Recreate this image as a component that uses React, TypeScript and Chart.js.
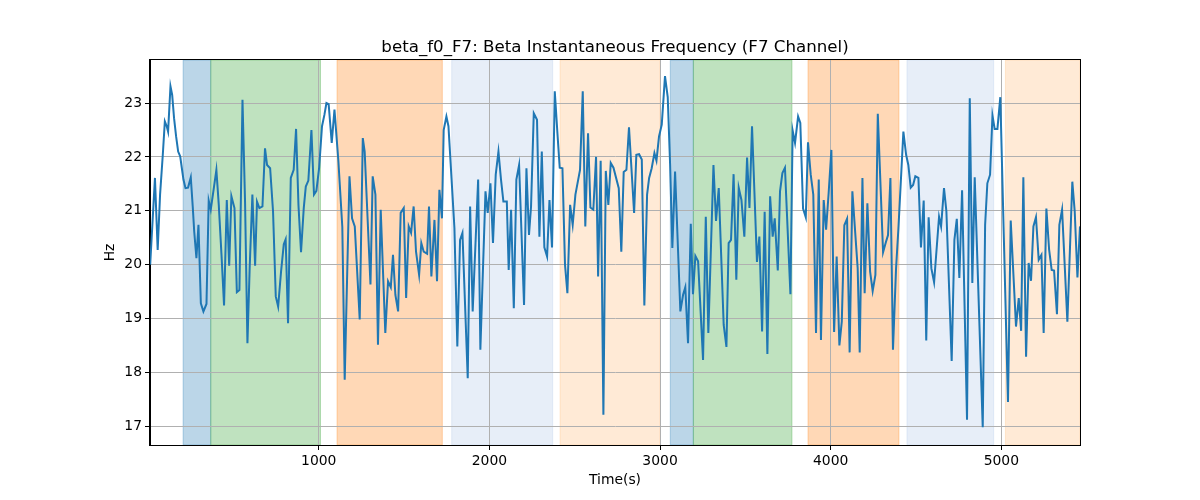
import React, { useEffect, useRef } from "react";
import { Chart, registerables } from "chart.js";

Chart.register(...registerables);

const TITLE = "beta_f0_F7: Beta Instantaneous Frequency (F7 Channel)";
const X_LABEL = "Time(s)";
const Y_LABEL = "Hz";

const X_MIN = 11;
const X_MAX = 5461;
const Y_MIN = 16.65;
const Y_MAX = 23.8;

const xTicks = [1000, 2000, 3000, 4000, 5000];
const yTicks = [17, 18, 19, 20, 21, 22, 23];

const times = [
  12, 40, 56, 70, 86, 98, 109, 117, 131, 141, 152, 164, 176, 188, 195, 207, 219, 234, 250,
  262, 270, 283, 295, 309, 324, 342, 355, 367, 385, 400, 414, 430, 445, 461, 475, 488, 506, 520, 535,
  553, 568, 582, 595, 611, 627, 638, 652, 670, 685, 697, 715, 732, 748, 762, 779, 795, 806, 820, 836,
  853, 867, 881, 896, 912, 924, 939, 957, 972, 986, 1002, 1019, 1033, 1045, 1058, 1076, 1092, 1115, 1138, 1152,
  1180, 1195, 1211, 1240, 1258, 1269, 1303, 1316, 1332, 1347, 1363, 1390, 1406, 1422, 1435, 1449, 1465, 1480, 1498, 1512,
  1527, 1541, 1556, 1570, 1588, 1601, 1615, 1635, 1646, 1660, 1678, 1693, 1707, 1722, 1732, 1748, 1760, 1795, 1812, 1828,
  1842, 1873, 1887, 1902, 1934, 1947, 1977, 1990, 2006, 2021, 2037, 2053, 2068, 2082, 2102, 2113, 2127, 2143, 2158, 2174,
  2203, 2217, 2232, 2244, 2260, 2279, 2293, 2307, 2322, 2338, 2352, 2367, 2383, 2398, 2412, 2428, 2443, 2457, 2473, 2488,
  2504, 2531, 2547, 2562, 2578, 2592, 2609, 2625, 2637, 2652, 2668, 2682, 2697, 2711, 2727, 2758, 2773, 2787, 2803, 2818,
  2848, 2861, 2877, 2893, 2908, 2924, 2936, 2951, 2967, 2979, 2994, 3010, 3029, 3045, 3059, 3072, 3088, 3119, 3135, 3148,
  3164, 3180, 3193, 3207, 3223, 3252, 3268, 3283, 3313, 3328, 3344, 3373, 3389, 3402, 3416, 3431, 3447, 3461, 3477, 3494,
  3510, 3524, 3539, 3568, 3582, 3598, 3613, 3629, 3645, 3660, 3672, 3690, 3703, 3717, 3732, 3764, 3777, 3791, 3809, 3822,
  3838, 3854, 3867, 3883, 3898, 3914, 3930, 3943, 3959, 3973, 3988, 4004, 4020, 4035, 4051, 4065, 4080, 4096, 4111, 4127,
  4158, 4170, 4186, 4199, 4215, 4231, 4246, 4262, 4276, 4307, 4322, 4336, 4350, 4365, 4383, 4397, 4426, 4442, 4455, 4469,
  4483, 4496, 4514, 4529, 4545, 4560, 4574, 4590, 4606, 4635, 4647, 4664, 4678, 4709, 4725, 4739, 4754, 4770, 4799, 4815,
  4830, 4844, 4891, 4905, 4918, 4934, 4948, 4961, 4977, 4994, 5039, 5055, 5086, 5102, 5116, 5129, 5145, 5160, 5174, 5188,
  5203, 5219, 5235, 5248, 5264, 5280, 5295, 5309, 5326, 5340, 5356, 5387, 5416, 5430, 5446, 5461,
];

const values = [
  20.0, 21.61, 20.27, 21.3, 22.04, 22.66, 22.57, 22.47, 23.31, 23.15, 22.72, 22.38, 22.1, 22.01, 21.85, 21.58, 21.42, 21.43, 21.62,
  21.05, 20.62, 20.12, 20.74, 19.28, 19.13, 19.27, 21.19, 21.02, 21.42, 21.76, 21.11, 20.18, 19.24, 21.2, 19.98, 21.27, 21.05, 19.49, 19.53,
  23.06, 21.17, 18.54, 19.93, 21.3, 19.98, 21.17, 21.05, 21.08, 22.16, 21.85, 21.79, 20.99, 19.41, 19.22, 19.87, 20.38, 20.47, 18.91, 21.61,
  21.76, 22.52, 21.11, 20.23, 21.05, 21.45, 21.56, 22.5, 21.3, 21.37, 21.79, 22.57, 22.78, 23.0, 22.98, 22.26, 22.88, 21.92, 20.7, 17.86,
  21.64, 20.86, 20.71, 18.98, 22.35, 22.1, 19.63, 21.64, 21.3, 18.51, 21.02, 18.73, 19.69, 19.58, 20.18, 19.44, 19.13, 20.96, 21.05, 19.38,
  20.71, 20.59, 21.08, 20.24, 19.81, 20.4, 20.24, 20.2, 21.08, 19.78, 20.83, 19.69, 21.39, 20.86, 22.5, 22.75, 22.57, 20.68, 18.48, 20.46,
  20.59, 17.89, 21.08, 19.13, 21.58, 18.42, 21.36, 20.96, 21.51, 20.4, 21.67, 22.1, 21.58, 21.17, 21.17, 19.9, 21.02, 19.19, 21.58, 21.85,
  19.25, 21.79, 20.55, 21.08, 22.81, 22.69, 20.52, 22.1, 20.32, 20.15, 21.2, 20.32, 23.22, 22.47, 21.8, 21.79, 20.0, 19.47, 21.11, 20.74,
  21.3, 21.76, 23.22, 20.71, 22.44, 21.06, 21.02, 22.0, 19.78, 21.93, 17.21, 21.74, 21.11, 21.89, 21.8, 21.42, 20.24, 21.72, 21.76, 22.55,
  20.96, 22.04, 22.05, 21.95, 19.24, 21.3, 21.61, 21.79, 22.07, 21.93, 22.38, 22.6, 23.5, 23.11, 21.85, 20.31, 21.73, 19.13, 19.44, 19.58,
  18.54, 20.76, 19.45, 20.16, 20.06, 18.23, 20.89, 18.73, 21.85, 20.81, 21.42, 18.88, 18.47, 20.4, 20.46, 21.68, 19.72, 21.43, 21.2, 20.52,
  21.99, 21.05, 22.57, 20.05, 20.52, 18.76, 20.98, 18.34, 21.27, 20.52, 20.86, 19.89, 21.36, 21.7, 21.8, 19.45, 22.49, 22.26, 22.75, 22.63,
  21.04, 20.88, 22.27, 21.67, 21.3, 18.73, 21.58, 18.6, 21.2, 20.65, 21.33, 22.13, 18.75, 20.15, 18.5, 18.94, 20.73, 20.85, 18.37, 21.36,
  19.94, 18.37, 21.61, 19.47, 21.14, 19.87, 19.51, 19.81, 22.8, 20.23, 20.4, 20.55, 21.61, 18.42, 19.93, 20.68, 22.47, 22.04, 21.85, 21.43,
  21.48, 21.64, 21.61, 20.32, 21.19, 18.59, 20.88, 19.93, 19.67, 20.89, 20.71, 21.42, 20.99, 18.21, 20.46, 20.85, 19.75, 21.38, 17.12, 23.09,
  19.66, 21.62, 16.98, 20.74, 21.51, 21.67, 22.77, 22.52, 22.52, 23.11, 17.45, 20.82, 18.85, 19.38, 18.77, 21.62, 18.29, 20.03, 19.7, 20.71,
  20.88, 20.09, 20.18, 18.73, 21.04, 20.28, 19.9, 19.89, 19.08, 20.74, 21.02, 18.94, 21.54, 20.99, 19.76, 20.71,
];

// Shaded background intervals (seconds) and their colours
const spanStarts = [205, 367, 1107, 1779, 2414, 3060, 3195, 3867, 4447, 5024];
const spanEnds = [367, 1010, 1724, 2371, 2998, 3195, 3773, 4400, 4955, 5461];
const spanColors = [
  "rgba(31,119,180,0.3)",
  "rgba(44,160,44,0.3)",
  "rgba(255,127,14,0.3)",
  "rgba(174,199,232,0.3)",
  "rgba(255,187,120,0.3)",
  "rgba(31,119,180,0.3)",
  "rgba(44,160,44,0.3)",
  "rgba(255,127,14,0.3)",
  "rgba(174,199,232,0.3)",
  "rgba(255,187,120,0.3)",
];

const FONT = "'DejaVu Sans', sans-serif";

const spansPlugin = {
  id: "spans",
  beforeDraw(chart: any) {
    const { ctx, chartArea, scales } = chart;
    const xs = scales.x;
    ctx.save();
    ctx.beginPath();
    ctx.rect(chartArea.left, chartArea.top, chartArea.right - chartArea.left, chartArea.bottom - chartArea.top);
    ctx.clip();
    for (let i = 0; i < spanStarts.length; i++) {
      const x0 = xs.getPixelForValue(spanStarts[i]);
      const x1 = xs.getPixelForValue(spanEnds[i]);
      ctx.fillStyle = spanColors[i];
      ctx.fillRect(x0, chartArea.top, x1 - x0, chartArea.bottom - chartArea.top);
      ctx.strokeStyle = spanColors[i];
      ctx.lineWidth = 1;
      ctx.strokeRect(x0, chartArea.top, x1 - x0, chartArea.bottom - chartArea.top);
    }
    ctx.restore();
  },
  afterDraw(chart: any) {
    const { ctx, chartArea } = chart;
    ctx.save();
    ctx.strokeStyle = "#000";
    ctx.lineWidth = 1;
    ctx.strokeRect(
      Math.round(chartArea.left) - 0.5,
      Math.round(chartArea.top) - 0.5,
      Math.round(chartArea.right - chartArea.left) + 1,
      Math.round(chartArea.bottom - chartArea.top) + 1
    );
    ctx.fillStyle = "#000";
    ctx.font = `16.67px ${FONT}`;
    ctx.textAlign = "center";
    ctx.textBaseline = "alphabetic";
    ctx.fillText(TITLE, (chartArea.left + chartArea.right) / 2, chartArea.top - 8);
    ctx.restore();
  },
};

export default function App() {
  const ref = useRef<HTMLCanvasElement | null>(null);

  useEffect(() => {
    if (!ref.current) return;
    const points = times.map((t, i) => ({ x: t, y: values[i] }));
    const chart = new Chart(ref.current, {
      type: "line",
      data: {
        datasets: [
          {
            data: points,
            borderColor: "#1f77b4",
            borderWidth: 2,
            pointRadius: 0,
            tension: 0,
            fill: false,
          },
        ],
      },
      options: {
        animation: false,
        responsive: false,
        devicePixelRatio: 1,
        layout: { padding: { top: 60, right: 120, bottom: 0, left: 0 } },
        plugins: {
          legend: { display: false },
          tooltip: { enabled: false },
          title: { display: false },
        },
        scales: {
          x: {
            type: "linear",
            min: X_MIN,
            max: X_MAX,
            afterFit: (s: any) => {
              s.height = 55;
            },
            afterBuildTicks: (s: any) => {
              s.ticks = xTicks.map((v) => ({ value: v }));
            },
            ticks: {
              color: "#000",
              font: { family: FONT, size: 13.9 },
              padding: 3,
              maxRotation: 0,
              autoSkip: false,
              callback: (v: any) => String(v),
            },
            grid: {
              color: "#b0b0b0",
              lineWidth: 1,
              tickColor: "#000",
              tickLength: 5,
              drawTicks: true,
            },
            border: { color: "#000", width: 1 },
            title: {
              display: true,
              text: X_LABEL,
              color: "#000",
              font: { family: FONT, size: 13.9 },
              padding: { top: 0, bottom: 11 },
            },
          },
          y: {
            type: "linear",
            min: Y_MIN,
            max: Y_MAX,
            afterFit: (s: any) => {
              s.width = 150;
            },
            afterBuildTicks: (s: any) => {
              s.ticks = yTicks.map((v) => ({ value: v }));
            },
            ticks: {
              color: "#000",
              font: { family: FONT, size: 13.9 },
              padding: 3,
              autoSkip: false,
              callback: (v: any) => String(v),
            },
            grid: {
              color: "#b0b0b0",
              lineWidth: 1,
              tickColor: "#000",
              tickLength: 5,
              drawTicks: true,
            },
            border: { color: "#000", width: 1 },
            title: {
              display: true,
              text: Y_LABEL,
              color: "#000",
              font: { family: FONT, size: 13.9 },
              padding: { top: 102, bottom: 0 },
            },
          },
        },
      },
      plugins: [spansPlugin],
    });
    return () => chart.destroy();
  }, []);

  return (
    <div style={{ position: "absolute", left: 0, top: 0, width: 1200, height: 500 }}>
      <canvas ref={ref} width={1200} height={500} />
    </div>
  );
}
